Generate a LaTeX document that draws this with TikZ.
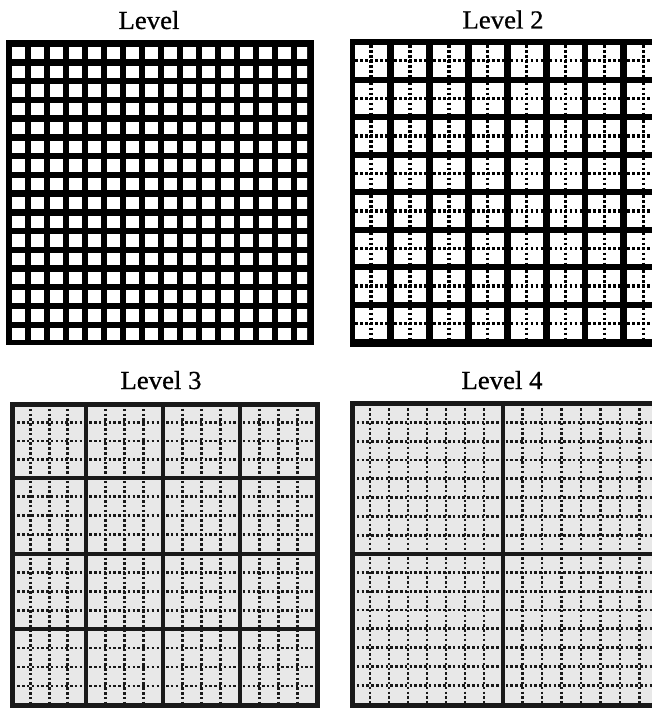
\documentclass[tikz,border=0pt]{standalone}
\usepackage{fontspec}
\newfontfamily\titlefont[FakeStretch=1.03,FakeBold=0.6]{Liberation Serif}
\begin{document}
\begin{tikzpicture}[x=1pt,y=-1pt,
  title/.style={anchor=base,inner sep=0pt,font=\titlefont\fontsize{26}{30}\selectfont},
  dotsA/.style={black,line width=3.5pt,dash pattern=on 2.8pt off 2.2pt},
  dotsB/.style={black!90,line width=2.8pt,dash pattern=on 2.5pt off 2.3pt},
  thickb/.style={black!90,line width=5pt},
  divb/.style={black!90,line width=4pt},
  panelfill/.style={fill=black!9}]
\useasboundingbox (0,0) rectangle (652,709);
\fill[white] (0,0) rectangle (652,709);
\clip (0,0) rectangle (652,709);

% titles
\node[title] (t1) at (149,29) {Level};
\node[title] (t2) at (503,28.5) {Level 2};
\node[title] (t3) at (161,389) {Level 3};
\node[title] (t4) at (502,389) {Level 4};

% ---------- Level 1 ----------
\fill[black] (6,40) rectangle (314,345);
\begin{scope}
  \clip (12,47) rectangle (307,339);
  \foreach \i in {0,...,15}{
    \foreach \j in {0,...,15}{
      \fill[white] ({12+19*\i},{47+18.73*\j}) rectangle +(12.7,12.3);
    }
  }
\end{scope}

% ---------- Level 2 ----------
\fill[black] (350,39) rectangle (670,347);
\foreach \i in {0,...,7}{
  \foreach \j in {0,...,7}{
    \pgfmathsetmacro{\cx}{355+38.9*\i}
    \pgfmathsetmacro{\cy}{45+37.5*\j}
    \fill[white] (\cx,\cy) rectangle +(32,31.5);
    \draw[dotsA] ({\cx+16},\cy) -- ++(0,31.5);
    \draw[dotsA] (\cx,{\cy+15.75}) -- ++(32,0);
  }
}

% ---------- Level 3 ----------
\fill[panelfill] (12.5,404) rectangle (317,705);
\foreach \xa/\xb in {12.5/86,86/163,163/240,240/317}{
  \foreach \q in {1,2,3}{
    \draw[dotsB] ({\xa+(\xb-\xa)*\q/4},404) -- ({\xa+(\xb-\xa)*\q/4},705);
  }
}
\foreach \ya/\yb in {404/478,478/553.5,553.5/629,629/705}{
  \foreach \q in {1,2,3}{
    \draw[dotsB] (12.5,{\ya+(\yb-\ya)*\q/4}) -- (317,{\ya+(\yb-\ya)*\q/4});
  }
}
\foreach \x in {86,163,240}{ \draw[divb] (\x,404) -- (\x,705); }
\foreach \y in {478,553.5,629}{ \draw[divb] (12.5,\y) -- (317,\y); }
\draw[thickb] (12.5,404) rectangle (317,705);

% ---------- Level 4 ----------
\fill[panelfill] (352,403.5) rectangle (670,705);
\foreach \k in {1,...,7}{
  \draw[dotsB] ({351+19*\k},403.5) -- ({351+19*\k},705);
  \draw[dotsB] ({503+19.5*\k},403.5) -- ({503+19.5*\k},705);
  \draw[dotsB] (352,{403.5+18.8*\k}) -- (670,{403.5+18.8*\k});
  \draw[dotsB] (352,{553.5+18.8*\k}) -- (670,{553.5+18.8*\k});
}
\draw[divb] (503,403.5) -- (503,705);
\draw[divb] (352,553.5) -- (670,553.5);
\draw[thickb] (352.5,403.5) rectangle (680,705.5);
\end{tikzpicture}
\end{document}
